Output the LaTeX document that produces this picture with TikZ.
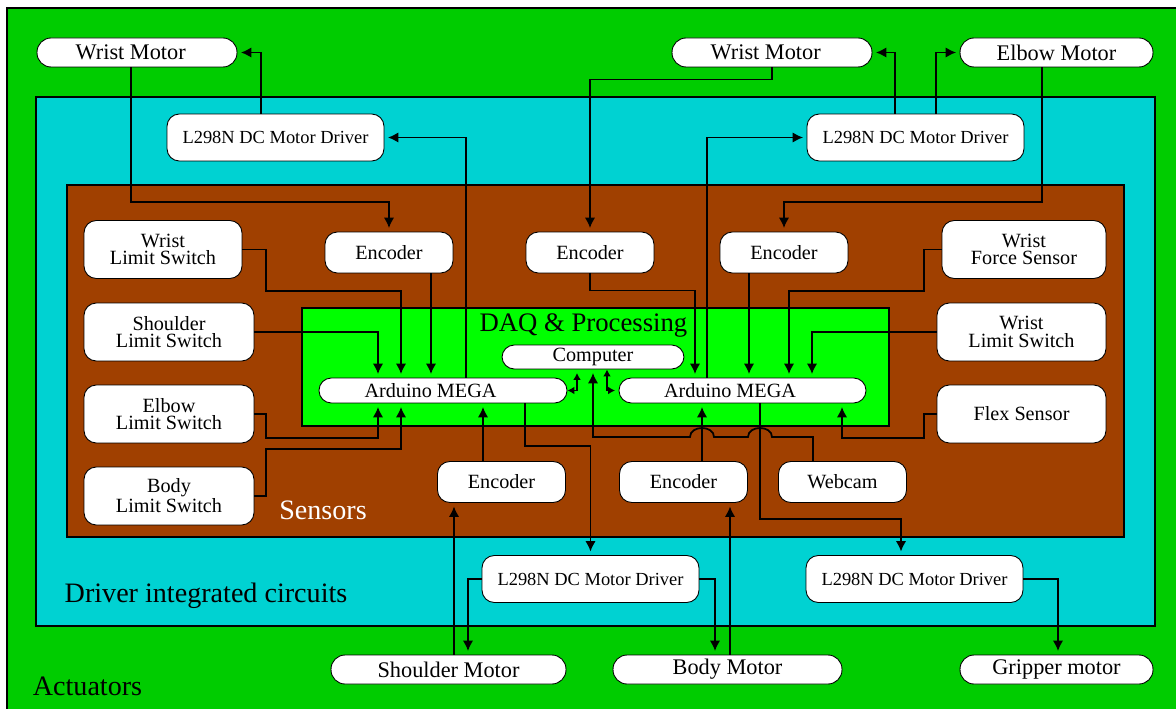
\documentclass[tikz,border=0pt]{standalone}
\usepackage{fontspec}
\setmainfont{Liberation Serif}
\usetikzlibrary{arrows.meta}
\definecolor{actgreen}{RGB}{0,204,0}
\definecolor{drvcyan}{RGB}{0,210,210}
\definecolor{senbrown}{RGB}{160,64,0}
\definecolor{daqgreen}{RGB}{0,255,0}

\begin{document}
\begin{tikzpicture}[x=0.02cm,y=-0.02cm,>={Latex[length=6pt,width=6pt]},
	zone/.style={draw,line width=0.6pt},
	part/.style={draw,line width=0.5pt,fill=white,rounded corners=7pt,align=center,inner sep=0pt,font=\fontsize{11.5}{10}\selectfont},
	motor/.style={part,rounded corners=8pt,minimum height=0.58cm,font=\fontsize{12.7}{14}\selectfont},
	driver/.style={part,minimum width=4.34cm,minimum height=0.94cm,font=\fontsize{10.5}{12}\selectfont},
	encoder/.style={part,minimum width=2.56cm,minimum height=0.82cm},
	sensor/.style={part,minimum height=1.16cm},
	board/.style={part,minimum height=0.5cm},
	title/.style={anchor=base,font=\fontsize{16}{18}\selectfont},
	wire/.style={line width=1pt,shorten >=2pt},
	tiny/.style={>={Latex[length=4pt,width=4.5pt]}}]
	\useasboundingbox (0,0) rectangle (1176,709);
	\draw[zone,fill=actgreen] (7,8) rectangle (1190,720);
	\draw[zone,line width=1pt,fill=drvcyan] (36,97) rectangle (1155,626);
	\draw[zone,fill=senbrown] (67,185) rectangle (1124,537);
	\draw[zone,fill=daqgreen] (302,308) rectangle (889,426);

	\node[title] (act) at (87.5,695) {Actuators};
	\node[title] (drv) at (206,602) {Driver integrated circuits};
	\node[title,text=white] (sen) at (323,519) {Sensors};
	\node[title,font=\fontsize{15.2}{17}\selectfont] (daq) at (583.5,332) {DAQ \& Processing};

	\node[motor,minimum width=4cm] (wm_0) at (137,52.5) {Wrist Motor\hspace{0.25cm}};
	\node[motor,minimum width=4cm] (wm_1) at (772,52.5) {Wrist Motor\hspace{0.25cm}};
	\node[motor,minimum width=3.86cm] (em) at (1056.5,52.5) {Elbow Motor};
	\node[motor,minimum width=4.7cm] (sm) at (448.5,669.5) {Shoulder Motor};
	\node[motor,minimum width=4.58cm] (bm) at (727.5,669.5) {Body Motor};
	\node[motor,minimum width=3.86cm] (gm) at (1056.5,669.5) {Gripper motor};

	\node[driver] (dr_0) at (275.5,137.5) {L298N DC Motor Driver};
	\node[driver] (dr_1) at (915.5,137.5) {L298N DC Motor Driver};
	\node[driver] (dr_2) at (590.5,579) {L298N DC Motor Driver};
	\node[driver] (dr_3) at (914.5,579) {L298N DC Motor Driver};

	\node[encoder] (en_0) at (389,252.5) {Encoder};
	\node[encoder] (en_1) at (590,252.5) {Encoder};
	\node[encoder] (en_2) at (784,252.5) {Encoder};
	\node[encoder] (en_3) at (501.5,482) {Encoder};
	\node[encoder] (en_4) at (683.5,482) {Encoder};
	\node[encoder] (wc) at (842.5,482) {Webcam};

	\node[sensor,minimum width=3.16cm] (ls_0) at (163,249.5) {Wrist\\Limit Switch};
	\node[sensor,minimum width=3.4cm] (ls_1) at (169,332) {Shoulder\\Limit Switch};
	\node[sensor,minimum width=3.4cm] (ls_2) at (169,414) {Elbow\\Limit Switch};
	\node[sensor,minimum width=3.4cm] (ls_3) at (169,496) {Body\\Limit Switch};
	\node[sensor,minimum width=3.28cm] (fs) at (1024,249.5) {Wrist\\Force Sensor};
	\node[sensor,minimum width=3.38cm] (ls_4) at (1021.5,332) {Wrist\\Limit Switch};
	\node[sensor,minimum width=3.38cm] (flex) at (1021.5,414) {Flex Sensor};

	\node[board,minimum width=4.96cm] (ar_0) at (443,390.5) {Arduino MEGA\hspace{0.5cm}};
	\node[board,minimum width=4.94cm] (ar_1) at (742.5,390.5) {Arduino MEGA\hspace{0.5cm}};
	\node[board,minimum width=3.64cm,minimum height=0.48cm] (cp) at (593,357) {Computer};

	\draw[wire,->] (131,0 |- wm_0.south) -- (131,202) -| (en_0.north);
	\draw[wire,->] (261,0 |- dr_0.north) |- (wm_0.east);
	\draw[wire,->] (466,0 |- ar_0.north) |- (dr_0.east);
	\draw[wire,->] (wm_1.south) -- ++(0,12) -| (en_1.north);
	\draw[wire,->] (707,0 |- ar_1.north) |- (dr_1.west);
	\draw[wire,->] (895,0 |- dr_1.north) |- (wm_1.east);
	\draw[wire,->] (936,0 |- dr_1.north) |- (em.west);
	\draw[wire,->] (1042,0 |- em.south) -- (1042,202) -| (en_2.north);

	\draw[wire,->] (ls_0.east) -| (266,291) -| (401,0 |- ar_0.north);
	\draw[wire,->] (ls_1.east) -| (378,0 |- ar_0.north);
	\draw[wire,->] (431,0 |- en_0.south) -- (431,0 |- ar_0.north);
	\draw[wire,->] (ls_2.east) -| (266,438) -| (378,0 |- ar_0.south);
	\draw[wire,->] (ls_3.east) -| (266,449) -| (401,0 |- ar_0.south);
	\draw[wire,->] (483,0 |- en_3.north) -- (483,0 |- ar_0.south);
	\draw[wire,->] (525,0 |- ar_0.south) -- (525,446) -| (dr_2.north);
	\draw[wire,->] (454,0 |- sm.north) -- (454,0 |- en_3.south);
	\draw[wire,->] (dr_2.west) -| (468,0 |- sm.north);
	\draw[wire,->] (dr_2.east) -| (715,0 |- bm.north);
	\draw[wire,->] (730,0 |- bm.north) -- (730,0 |- en_4.south);
	\draw[wire,->] (702,0 |- en_4.north) -- (702,0 |- ar_1.south);
	\draw[wire,->] (760,0 |- ar_1.south) -- (760,519) -| (901,0 |- dr_3.north);
	\draw[wire,->] (813,0 |- wc.north) |- (772,437) .. controls (772,425) and (748,425) .. (748,437) -- (714,437) .. controls (714,425) and (690,425) .. (690,437) -| (cp.south);
	\draw[wire,tiny,<->] (ar_0.east) -| (577,0 |- cp.south);
	\draw[wire,tiny,<->] (607,0 |- cp.south) |- (ar_1.west);

	\draw[wire,->] (en_1.south) -- ++(0,17) -| (695,0 |- ar_1.north);
	\draw[wire,->] (749,0 |- en_2.south) -- (749,0 |- ar_1.north);
	\draw[wire,->] (fs.west) -| (924,291) -| (789,0 |- ar_1.north);
	\draw[wire,->] (ls_4.west) -| (812,0 |- ar_1.north);
	\draw[wire,->] (flex.west) -| (924,438) -| (842,0 |- ar_1.south);
	\draw[wire,->] (dr_3.east) -| (1058,0 |- gm.north);
\end{tikzpicture}
\end{document}
